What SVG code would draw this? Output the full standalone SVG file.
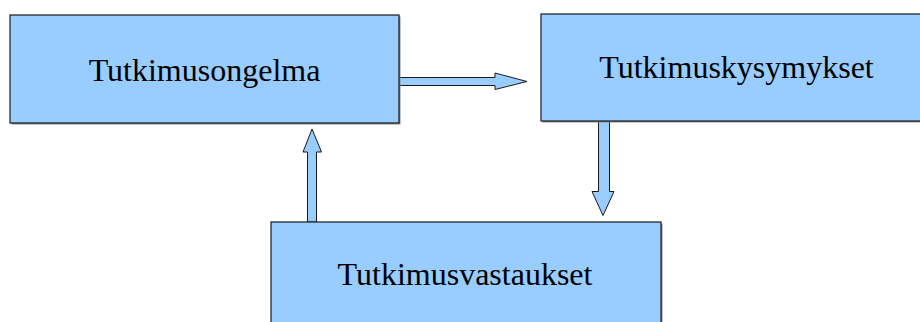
<svg xmlns="http://www.w3.org/2000/svg" width="920" height="322" viewBox="0 0 920 322">
<style>
.box{fill:#99ccff;stroke:#1a1a1a;stroke-width:1.2}
.shadow{fill:#8a8a8a}
.arrow{fill:#99ccff;stroke:#1a1a1a;stroke-width:1;stroke-linejoin:miter}
.label{font-family:"Liberation Serif","Times New Roman",serif;font-size:32px;fill:#000;text-anchor:middle}
</style>
<rect width="920" height="322" fill="#ffffff"/>
<g id="connectors">
<polygon class="arrow" points="399,77.5 495,77.5 495,73 527,81.5 495,89.5 495,85.5 399,85.5"/>
<polygon class="arrow" points="307.5,222 307.5,152 303,152 312,129 321.5,152 316.5,152 316.5,222"/>
<polygon class="arrow" points="598.5,121.5 609.5,121.5 609.5,191.5 614,191.5 603,215.5 592,191.5 598.5,191.5"/>
</g>
<g id="node-tutkimusongelma">
<rect class="shadow" x="11.5" y="16.5" width="389" height="108"/>
<rect class="box" x="10" y="15" width="389" height="108"/>
<text class="label" x="204.5" y="81">Tutkimusongelma</text>
</g>
<g id="node-tutkimuskysymykset">
<rect class="shadow" x="542.5" y="15.5" width="390" height="107"/>
<rect class="box" x="541" y="14" width="390" height="107"/>
<text class="label" x="736.5" y="78">Tutkimuskysymykset</text>
</g>
<g id="node-tutkimusvastaukset">
<rect class="shadow" x="272.5" y="223.5" width="390" height="110"/>
<rect class="box" x="271" y="222" width="390" height="110"/>
<text class="label" x="465" y="285">Tutkimusvastaukset</text>
</g>
</svg>
